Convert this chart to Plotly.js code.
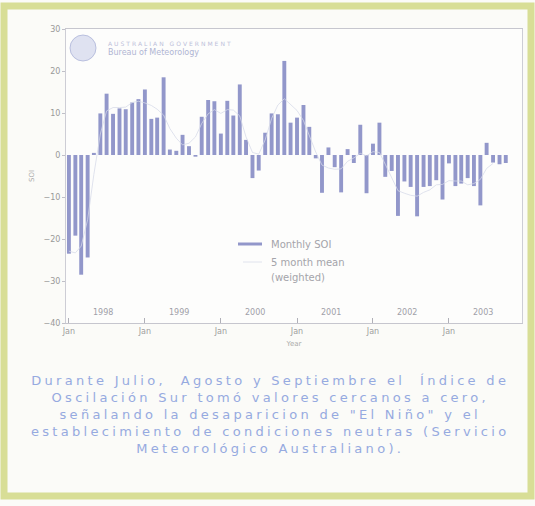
<!DOCTYPE html>
<html>
<head>
<meta charset="utf-8">
<script src="https://cdn.plot.ly/plotly-3.0.1.min.js"></script>
<style>
  html, body { margin: 0; padding: 0; background: #fbfbf8; }
  #chart { width: 535px; height: 506px; }
</style>
</head>
<body>
<div id="chart"></div>
<script>
// ---- data (Southern Oscillation Index, monthly) ----
const years = [1998, 1999, 2000, 2001, 2002, 2003];
const soi1998 = [-23.5, -19.2, -28.5, -24.4, 0.5, 9.9, 14.6, 9.8, 11.1, 10.9, 12.5, 13.3];
const soi1999 = [15.6, 8.6, 8.9, 18.5, 1.3, 1.0, 4.8, 2.1, -0.4, 9.1, 13.1, 12.8];
const soi2000 = [5.1, 12.9, 9.4, 16.8, 3.6, -5.5, -3.7, 5.3, 9.9, 9.7, 22.4, 7.7];
const soi2001 = [8.9, 11.9, 6.7, -0.8, -9.0, 1.8, -2.9, -8.9, 1.4, -1.9, 7.2, -9.1];
const soi2002 = [2.7, 7.7, -5.2, -3.8, -14.5, -6.3, -7.6, -14.6, -7.6, -7.4, -6.0, -10.6];
const soi2003 = [-2.0, -7.4, -6.8, -5.5, -7.4, -12.0, 2.9, -1.8, -2.2, -1.9];
// 5 month mean (weighted), faint line
const mean1998 = [-22.9, -23.3, -21.7, -15.4, -4.6, 5.0, 10.5, 11.3, 11.3, 11.4, 12.5, 12.8];
const mean1999 = [12.4, 11.8, 10.9, 9.5, 6.3, 4.0, 2.4, 2.8, 4.3, 7.5, 9.8, 10.8];
const mean2000 = [9.9, 10.8, 10.7, 9.3, 4.3, 0.6, 0.2, 3.6, 8.7, 11.9, 13.4, 11.9];
const mean2001 = [10.6, 8.2, 4.7, 0.7, -2.4, -3.1, -3.4, -3.3, -1.5, -0.7, 0.4, -0.2];
const mean2002 = [0.8, 0.6, -2.2, -5.5, -8.5, -9.1, -9.6, -9.8, -8.9, -8.3, -7.1, -7.0];
const mean2003 = [-6.1, -6.2, -6.2, -7.1, -6.8, -5.8, -3.2, -2.0, null, null];

const soiYears = [soi1998, soi1999, soi2000, soi2001, soi2002, soi2003];
const meanYears = [mean1998, mean1999, mean2000, mean2001, mean2002, mean2003];

const pad = n => (n < 10 ? '0' : '') + n;
const dates = [], soi = [], mean = [];
years.forEach((y, i) => {
  soiYears[i].forEach((v, m) => {
    dates.push(y + '-' + pad(m + 1) + '-01');
    soi.push(v);
    mean.push(meanYears[i][m]);
  });
});

// ---- geometry helpers (pixel -> paper) ----
const W = 535, H = 506, ML = 66, MR = 13, MT = 29, MB = 183;
const PW = W - ML - MR, PH = H - MT - MB;
const px = x => (x - ML) / PW;
const py = y => (H - MB - y) / PH;

const barColor = 'rgb(146,151,202)';
const faint = '#a4a4aa';
const meanColor = 'rgba(214,217,232,0.75)';

const traces = [
  {
    type: 'bar', x: dates, y: soi, name: 'Monthly SOI',
    marker: { color: barColor, line: { width: 0 } },
    width: 1.62e9, showlegend: false, hoverinfo: 'x+y'
  },
  {
    type: 'scatter', mode: 'lines', x: dates, y: mean, name: '5 month mean (weighted)',
    line: { color: meanColor, width: 1 }, showlegend: false
  }
];

const annotations = [];
// year labels inside the plot
years.forEach(y => annotations.push({
  x: y + '-06-15', y: -37.6, xref: 'x', yref: 'y', text: String(y), showarrow: false,
  font: { family: 'DejaVu Sans', size: 8, color: '#a0a0a8' }
}));
// legend (drawn manually)
const legendItems = [['Monthly SOI', 244], ['5 month mean', 262], ['(weighted)', 277]];
legendItems.forEach(([t, yy]) => annotations.push({
  x: px(269), y: py(yy), xref: 'paper', yref: 'paper', xanchor: 'left', yanchor: 'middle',
  text: t, showarrow: false, font: { family: 'DejaVu Sans', size: 10, color: faint }
}));
// logo text
annotations.push({
  x: px(106), y: py(44), xref: 'paper', yref: 'paper', xanchor: 'left', yanchor: 'middle',
  text: '<span style="letter-spacing:2px">AUSTRALIAN GOVERNMENT</span>', showarrow: false,
  font: { family: 'DejaVu Sans', size: 6, color: '#bcc0da' }
});
annotations.push({
  x: px(106), y: py(53), xref: 'paper', yref: 'paper', xanchor: 'left', yanchor: 'middle',
  text: 'Bureau of Meteorology', showarrow: false,
  font: { family: 'DejaVu Sans', size: 8, color: '#b0b5d3' }
});
// caption (one multi-line text block)
const captionLines = [
  'Durante Julio,  Agosto y Septiembre el  Índice de',
  'Oscilación Sur tomó valores cercanos a cero,',
  'señalando la desaparicion de "El Niño" y el',
  'establecimiento de condiciones neutras (Servicio',
  'Meteorológico Australiano).'
];
annotations.push({
  x: px(270), y: py(414), xref: 'paper', yref: 'paper', xanchor: 'center', yanchor: 'middle',
  align: 'center', showarrow: false,
  text: captionLines.map(t => '<span style="letter-spacing:3.3px">' + t + '</span>').join('<br>'),
  font: { family: 'DejaVu Sans', size: 13, color: 'rgb(150,170,224)' }
});

const shapes = [
  // outer frame
  { type: 'rect', xref: 'paper', yref: 'paper', x0: px(4), x1: px(531), y0: py(496), y1: py(6),
    line: { color: 'rgb(216,222,150)', width: 7 }, fillcolor: 'rgba(0,0,0,0)', layer: 'below' },
  // logo emblem
  { type: 'circle', xref: 'paper', yref: 'paper', x0: px(70), x1: px(96), y0: py(61), y1: py(35),
    line: { color: 'rgba(172,180,216,0.8)', width: 1 }, fillcolor: 'rgba(198,204,232,0.55)' },
  // legend samples
  { type: 'line', xref: 'paper', yref: 'paper', x0: px(238), x1: px(262), y0: py(244), y1: py(244),
    line: { color: barColor, width: 3 } },
  { type: 'line', xref: 'paper', yref: 'paper', x0: px(243), x1: px(262), y0: py(262), y1: py(262),
    line: { color: meanColor, width: 1 } }
];

const layout = {
  width: W, height: H,
  margin: { l: ML, r: MR, t: MT, b: MB, pad: 0 },
  paper_bgcolor: '#fbfbf8', plot_bgcolor: '#fdfdfc',
  showlegend: false, bargap: 0.35,
  font: { family: 'DejaVu Sans', size: 8, color: '#9a9a9a' },
  xaxis: {
    type: 'date', range: ['1997-12-18', '2003-12-18'],
    tick0: '1998-01-01', dtick: 'M12', tickformat: '%b',
    ticks: 'inside', ticklen: 5, tickcolor: '#b0b0b8',
    showgrid: false, zeroline: false,
    showline: true, mirror: true, linecolor: '#c6c6ce', linewidth: 1,
    tickfont: { size: 8, color: '#9e9e9e' },
    title: { text: 'Year', standoff: 6, font: { size: 7, color: '#ababab' } }
  },
  yaxis: {
    range: [-40, 30], dtick: 10, ticks: 'outside', ticklen: 3, tickcolor: '#c0c0c8',
    showgrid: false, zeroline: false,
    showline: true, mirror: true, linecolor: '#cdcdd5', linewidth: 1,
    tickfont: { size: 8, color: '#999999' },
    title: { text: 'SOI', standoff: 8, font: { size: 7, color: '#ababab' } }
  },
  annotations: annotations,
  shapes: shapes
};

Plotly.newPlot('chart', traces, layout, { displayModeBar: false, staticPlot: true });
</script>
</body>
</html>
